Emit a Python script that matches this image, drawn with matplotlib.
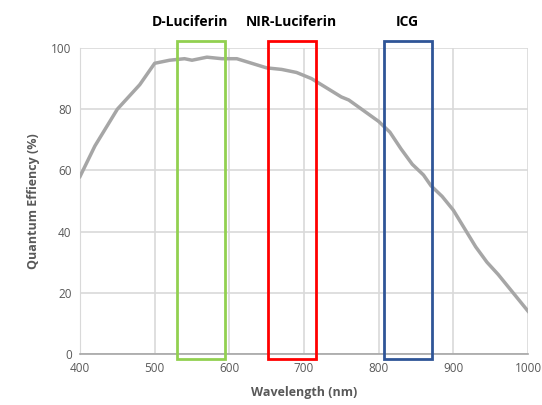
import matplotlib
matplotlib.use("Agg")
import matplotlib.pyplot as plt
from matplotlib.patches import Rectangle

plt.rcParams['font.family'] = ['Open Sans', 'DejaVu Sans']

wavelength = [400, 420, 450, 480, 500, 520, 540, 550, 570, 590, 610, 630, 650, 670, 690, 710,
              730, 750, 760, 780, 800, 815, 830, 845, 860, 870, 885, 900, 915, 930, 945, 960, 980, 1000]
qe = [58, 68, 80, 88, 95, 96, 96.5, 96, 97, 96.5, 96.5, 95, 93.5, 93, 92, 90,
      87, 84, 83, 79.5, 76, 72.5, 67, 62, 58.5, 55, 51.5, 47, 41, 35, 30, 26, 20, 14]

band_names = ["D-Luciferin", "NIR-Luciferin", "ICG"]
band_start = [530, 652, 807]
band_end = [594, 716, 871]
band_label_x = [547, 683, 839]
band_colors = ["#92d050", "#ff0000", "#2f5597"]

fig = plt.figure(figsize=(5.42, 4.05), dpi=100)
ax = fig.add_axes([0.1476, 0.1259, 0.8266, 0.7556])

ax.plot(wavelength, qe, color="#a6a6a6", lw=2.5, zorder=3)

ax.set_xlim(400, 1000)
ax.set_ylim(0, 100)
ax.set_xticks(range(400, 1001, 100))
ax.set_yticks(range(0, 101, 20))
ax.grid(True, color="#d9d9d9", lw=1.2, zorder=0)
ax.set_axisbelow(True)
for s in ["top", "right"]:
    ax.spines[s].set_visible(False)
ax.spines["left"].set_color("#d9d9d9")
ax.spines["bottom"].set_color("#a6a6a6")
ax.spines["bottom"].set_linewidth(1.2)
ax.tick_params(length=0, colors="#595959", labelsize=8.5, pad=6)

ax.set_xlabel("Wavelength (nm)", fontsize=9, fontweight="bold", color="#595959", labelpad=8)
ax.set_ylabel("Quantum Effiency (%)", fontsize=9, fontweight="bold", color="#595959", labelpad=8)

for name, s, e, lx, c in zip(band_names, band_start, band_end, band_label_x, band_colors):
    r = Rectangle((s, -1.6), e - s, 103.9, fill=False, edgecolor=c, lw=2, clip_on=False, zorder=4)
    ax.add_patch(r)
    ax.text(lx, 108.5, name, ha="center", va="center", fontsize=10,
            fontweight="bold", color="black", clip_on=False)

fig.savefig("out.png", dpi=100)
